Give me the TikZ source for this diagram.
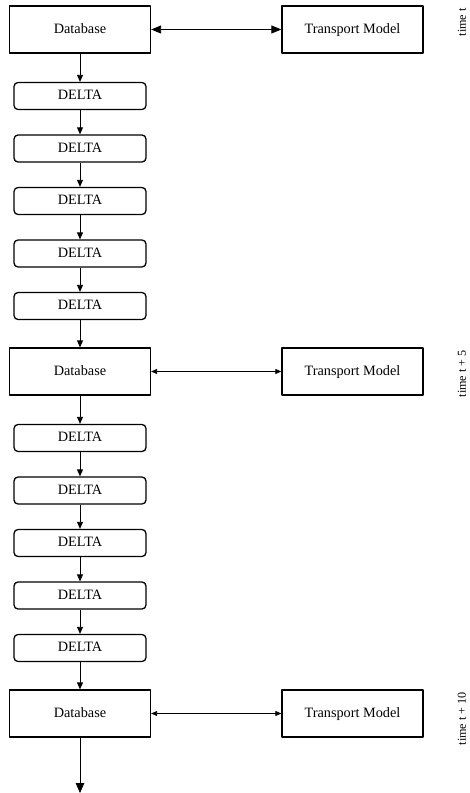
\documentclass[tikz,border=0pt]{standalone}
\usepackage{fontspec}
\setmainfont{Liberation Serif}
\usetikzlibrary{arrows.meta,calc}

\begin{document}
\begin{tikzpicture}[x=0.7pt, y=-0.7pt, font=\fontsize{10}{12}\selectfont, line join=round,
    dbbox/.style={draw, line width=0.9pt, minimum width=98.7pt, minimum height=32.9pt, inner sep=0pt, text height=0.7em, text depth=0.2em},
    deltabox/.style={draw, line width=0.9pt, rounded corners=2.8pt, minimum width=92.4pt, minimum height=18.9pt, inner sep=0pt, text height=0.7em, text depth=0.2em},
    flow/.style={line width=0.6pt, -{Triangle[length=4.9pt, width=4.2pt]}},
    flowbig/.style={line width=0.6pt, -{Triangle[length=7pt, width=6pt]}},
    link/.style={line width=0.6pt, {Triangle[length=4.2pt, width=3.5pt]}-{Triangle[length=4.2pt, width=3.5pt]}},
    linkbig/.style={line width=0.6pt, {Triangle[length=7pt, width=5.6pt]}-{Triangle[length=7pt, width=5.6pt]}},
    timelabel/.style={rotate=90, anchor=east, inner sep=0pt, font=\fontsize{8.5}{10}\selectfont}]
    \useasboundingbox (0,0) rectangle (469,793);

    \foreach \g/\y/\t in {1/29.5/time t, 2/371.5/time t + 5, 3/713.5/time t + 10}
    {
        \node[dbbox] (db\g) at (80,\y) {Database};
        \node[dbbox] (tm\g) at (352.5,\y) {Transport Model};
        \node[timelabel] (lbl\g) at (462,\y-21.5) {\t};
    }

    \foreach \g/\y in {1/29.5, 2/371.5}
        \foreach \i in {1,...,5}
            \node[deltabox] (d\g-\i) at (80,\y+14+52.5*\i) {DELTA};

    \draw[linkbig] (db1) -- (tm1);
    \draw[link] (db2) -- (tm2);
    \draw[link] (db3) -- (tm3);

    \foreach \g/\n in {1/2, 2/3}
    {
        \draw[flow] (db\g) -- (d\g-1);
        \foreach \i/\j in {1/2, 2/3, 3/4, 4/5}
            \draw[flow] (d\g-\i) -- (d\g-\j);
        \draw[flow] (d\g-5) -- (db\n);
    }

    \coordinate (out) at (80,793);
    \draw[flowbig] (db3) -- (out);
\end{tikzpicture}
\end{document}
